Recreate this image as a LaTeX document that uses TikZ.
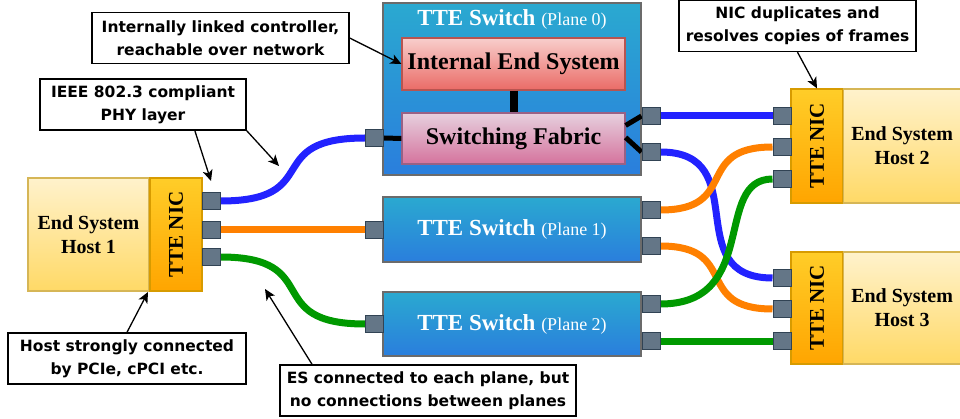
\documentclass[tikz,border=0pt]{standalone}
\usepackage{fontspec}
\setmainfont{Liberation Serif}
\newfontfamily\calloutfont{DejaVu Sans}
\usetikzlibrary{arrows.meta,calc}

\definecolor{swtop}{HTML}{2AA9D0}
\definecolor{swbot}{HTML}{2A7EDD}
\definecolor{swborder}{HTML}{6B6B6B}
\definecolor{iestop}{HTML}{F8CECC}
\definecolor{iesbot}{HTML}{EA6B66}
\definecolor{iesborder}{HTML}{B85450}
\definecolor{fabtop}{HTML}{E6D0DE}
\definecolor{fabbot}{HTML}{D5739D}
\definecolor{fabborder}{HTML}{996185}
\definecolor{estop}{HTML}{FFF2CC}
\definecolor{esbot}{HTML}{FFD966}
\definecolor{esborder}{HTML}{D6B656}
\definecolor{nictop}{HTML}{FFCD28}
\definecolor{nicbot}{HTML}{FFA500}
\definecolor{nicborder}{HTML}{D79B00}
\definecolor{portfill}{HTML}{647687}
\definecolor{portborder}{HTML}{314354}
\definecolor{cblue}{HTML}{2222FF}
\definecolor{corange}{HTML}{FF8000}
\definecolor{cgreen}{HTML}{009900}

\pgfdeclarelayer{foreground}
\pgfsetlayers{main,foreground}

\newcommand{\switchtitle}[1]{{\fontsize{23}{26}\selectfont\bfseries TTE Switch\ }{\fontsize{18}{20}\selectfont\mdseries (Plane #1)}}

\begin{document}
\begin{tikzpicture}[x=1pt,y=-1pt,
  switchbox/.style={draw=swborder, line width=1.2pt, shading=axis,
    top color=swtop, bottom color=swbot, inner sep=0pt, minimum width=258,
    text=white},
  innerbox/.style={line width=1.2pt, shading=axis, inner sep=0pt,
    minimum width=223,
    font=\fontsize{24}{26}\selectfont\bfseries},
  esbox/.style={draw=esborder, line width=1.2pt, shading=axis,
    top color=estop, bottom color=esbot, inner sep=0pt, align=center,
    font=\fontsize{20}{24}\selectfont\bfseries},
  nicbox/.style={draw=nicborder, line width=1.2pt, shading=axis,
    top color=nictop, bottom color=nicbot, inner sep=0pt,
    minimum width=52},
  nictext/.style={rotate=90, font=\fontsize{21}{24}\selectfont\bfseries},
  port/.style={draw=portborder, fill=portfill, line width=1pt,
    minimum width=18, minimum height=17, inner sep=0pt},
  cable/.style={line width=7pt},
  link/.style={line width=5pt, black},
  callout/.style={draw=black, fill=white, line width=1.4pt, align=center,
    inner sep=0pt, minimum height=51,
    font=\calloutfont\fontsize{15.5}{23}\selectfont\bfseries},
  pointer/.style={line width=1.3pt, -{Stealth[length=11pt,width=10pt,inset=3pt]}}
]
\useasboundingbox (0,0) rectangle (960,419);

% ---- switches ----
\node[switchbox, minimum height=172] (sw0) at (512,89) {};
\node[text=white, anchor=base] (sw0title) at (512,26) {\switchtitle{0}};
\node[innerbox, draw=iesborder, top color=iestop, bottom color=iesbot,
  minimum height=52] (ies) at (513.5,64) {Internal End System};
\node[innerbox, draw=fabborder, top color=fabtop, bottom color=fabbot,
  minimum height=51] (fab) at (513.5,138.5) {Switching Fabric};

\node[switchbox, minimum height=65] (sw1) at (512,229.5) {\switchtitle{1}};
\node[switchbox, minimum height=64] (sw2) at (512,324) {\switchtitle{2}};

% ---- end systems ----
\node[esbox, minimum width=121, minimum height=113] (es1) at (88.5,234.5) {End System\\Host 1};
\node[nicbox, minimum height=113] (nic1) at (176,234.5) {};
\node[nictext] at (nic1.center) {TTE NIC};

\node[nicbox, minimum height=114] (nic2) at (817,146) {};
\node[nictext] at (nic2.center) {TTE NIC};
\node[esbox, minimum width=117, minimum height=114, anchor=west] (es2) at (843,146) {End System\\Host 2};

\node[nicbox, minimum height=112] (nic3) at (817,308) {};
\node[nictext] at (nic3.center) {TTE NIC};
\node[esbox, minimum width=117, minimum height=112, anchor=west] (es3) at (843,308) {End System\\Host 3};

% ---- ports ----
\begin{pgfonlayer}{foreground}
\node[port] (h1a) at (211,201) {};
\node[port] (h1b) at (211,230) {};
\node[port] (h1c) at (211,257) {};
\node[port] (p0in) at (374.5,138) {};
\node[port] (p0a) at (651,116) {};
\node[port] (p0b) at (651,152) {};
\node[port] (p1in) at (374.5,230) {};
\node[port] (p1a) at (651,210) {};
\node[port] (p1b) at (651,246) {};
\node[port] (p2in) at (374.5,324) {};
\node[port] (p2a) at (651,304) {};
\node[port] (p2b) at (651,341) {};
\node[port] (h2a) at (782,116) {};
\node[port] (h2b) at (782,147) {};
\node[port] (h2c) at (782,179) {};
\node[port] (h3a) at (782,278) {};
\node[port] (h3b) at (782,309) {};
\node[port] (h3c) at (782,341) {};
\end{pgfonlayer}

% ---- links inside plane 0 ----
\draw[line width=8pt] (ies.south) -- (fab.north);
\draw[link] (p0in.east) -- (fab.west);
\draw[link] ($(fab.north east)!0.25!(fab.south east)$) -- (p0a.west);
\draw[link] ($(fab.north east)!0.48!(fab.south east)$) -- (p0b.west);

% ---- cables ----
\draw[cable, cblue] (h1a.east) .. controls +(105,0) and +(-105,0) .. (p0in.west);
\draw[cable, corange] (h1b.east) -- (p1in.west);
\draw[cable, cgreen] (h1c.east) .. controls +(105,0) and +(-105,0) .. (p2in.west);

\draw[cable, cblue] (p0a.east) -- (h2a.west);
\draw[cable, cblue] (p0b.east) .. controls +(95,0) and +(-95,0) .. (h3a.west);
\draw[cable, corange] (p1a.east) .. controls +(80,0) and +(-80,0) .. (h2b.west);
\draw[cable, corange] (p1b.east) .. controls +(80,0) and +(-80,0) .. (h3b.west);
\draw[cable, cgreen] (p2a.east) .. controls +(100,0) and +(-60,0) .. (h2c.west);
\draw[cable, cgreen] (p2b.east) -- (h3c.west);

% ---- callouts ----
\node[callout, minimum width=257] (c1) at (220.5,38)
  {Internally linked controller,\\reachable over network};
\node[callout, minimum width=206] (c2) at (143,104.5)
  {IEEE 802.3 compliant\\PHY layer};
\node[callout, minimum width=237] (c3) at (797.5,26)
  {NIC duplicates and\\resolves copies of frames};
\node[callout, minimum width=238] (c4) at (127,358.5)
  {Host strongly connected\\by PCIe, cPCI etc.};
\node[callout, minimum width=296] (c5) at (428,390.5)
  {ES connected to each plane, but\\no connections between planes};

\coordinate (phytip) at (211,181);
\coordinate (cabletip) at (279,166);
\coordinate (pcietip) at (148,292);
\coordinate (planetip) at (265,289);

\draw[pointer] (c1.east) -- (ies.west);
\draw[pointer] ($(c2.south west)!0.75!(c2.south east)$) -- (phytip);
\draw[pointer] (c2.south east) -- (cabletip);
\draw[pointer] (c3.south) -- (nic2.north);
\draw[pointer] (c4.north) -- (pcietip);
\draw[pointer] ($(c5.north west)!0.11!(c5.north east)$) -- (planetip);
\end{tikzpicture}
\end{document}
